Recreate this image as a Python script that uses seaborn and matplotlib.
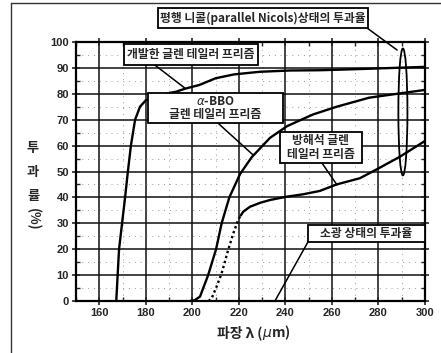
import matplotlib
matplotlib.use("Agg")
import matplotlib.pyplot as plt
from matplotlib.patches import Ellipse, Rectangle
from matplotlib.lines import Line2D
from matplotlib.ticker import MultipleLocator
import numpy as np
import pandas as pd
import seaborn as sns

# Transmittance curves (wavelength, %)
dev_wl = [167.3, 168.5, 171.1, 172.3, 173.6, 175.4, 177.5, 180.0, 185.0, 190.0, 193.0,
          197.0, 203.0, 210.0, 218.0, 229.0, 242.0, 255.0, 270.0, 280.0, 290.0, 300.0]
dev_tr = [0.0, 20.0, 40.0, 50.0, 60.0, 70.0, 75.0, 77.5, 79.0, 80.3, 80.8,
          82.0, 83.4, 86.0, 87.5, 88.5, 89.0, 89.1, 89.5, 89.8, 90.1, 90.4]

bbo_wl = [199.0, 201.0, 203.3, 206.8, 210.2, 212.6, 215.9, 220.5, 225.5, 233.4,
          240.7, 251.8, 262.0, 276.0, 292.0, 300.0]
bbo_tr = [0.0, 0.3, 1.7, 10.0, 20.0, 30.0, 40.0, 49.0, 55.5, 63.0,
          67.5, 72.0, 75.0, 78.5, 80.5, 81.5]

cal_dot_wl = [207.0, 208.3, 210.4, 212.6, 215.4, 217.6, 219.7, 220.8]
cal_dot_tr = [0.0, 1.0, 5.5, 10.7, 19.7, 26.1, 31.3, 33.0]

cal_wl = [220.8, 221.9, 224.8, 229.1, 233.4, 240.7, 247.6, 254.8, 262.0, 272.0,
          279.2, 289.2, 300.0]
cal_tr = [33.0, 34.5, 36.4, 37.9, 39.0, 40.3, 41.2, 42.5, 45.0, 47.4,
          50.8, 55.7, 61.8]

x_ticks = [160, 180, 200, 220, 240, 260, 280, 300]
y_ticks = [0, 10, 20, 30, 40, 50, 60, 70, 80, 90, 100]

# Callout boxes: (text, x0, x1, y0, y1) and their leader lines
labels = [
    ("평행 니콜(parallel Nicols)상태의 투과율", 185.2, 275.4, 105.4, 113.1),
    ("개발한 글렌 테일러 프리즘", 170.5, 228.1, 91.1, 99.2),
    ("$\\alpha$-BBO\n글렌 테일러 프리즘", 180.8, 238.8, 68.7, 80.3),
    ("방해석 글렌\n테일러 프리즘", 237.7, 272.9, 53.3, 65.3),
    ("소광 상태의 투과율", 249.7, 300.0, 22.8, 29.3),
]
leaders = [
    ((275.1, 105.4), (288.0, 96.9)),
    ((183.9, 91.1), (196.8, 82.2)),
    ((211.0, 68.7), (226.1, 56.4)),
    ((255.7, 53.3), (262.2, 44.8)),
    ((249.7, 22.8), (235.5, 0.0)),
]

sns.set_theme(style="ticks")
plt.rcParams["font.family"] = ["Noto Sans CJK KR", "DejaVu Sans"]

fig = plt.figure(figsize=(4.41, 3.53), dpi=100)
ax = fig.add_axes([76 / 441, 1 - 301 / 353, (425 - 76) / 441, (301 - 42) / 353])

curves = pd.concat([
    pd.DataFrame({"wl": dev_wl, "tr": dev_tr, "name": "dev"}),
    pd.DataFrame({"wl": bbo_wl, "tr": bbo_tr, "name": "bbo"}),
    pd.DataFrame({"wl": cal_wl, "tr": cal_tr, "name": "cal"}),
])
sns.lineplot(data=curves, x="wl", y="tr", units="name", estimator=None,
             color="black", lw=1.7, sort=False, ax=ax, zorder=3)
sns.lineplot(x=cal_dot_wl, y=cal_dot_tr, color="black", lw=1.7,
             linestyle=(0, (1, 1.2)), ax=ax, zorder=3)

ax.set_xlim(150, 300)
ax.set_ylim(0, 100)
ax.set_xticks(x_ticks)
ax.set_yticks(y_ticks)
ax.xaxis.set_minor_locator(MultipleLocator(10))
ax.yaxis.set_minor_locator(MultipleLocator(5))
ax.grid(True, which="major", color="#111111", lw=1.1, zorder=1)
ax.grid(True, which="minor", color="#999999", lw=0.7, linestyle=(0, (1, 5)), zorder=1)
ax.tick_params(which="major", direction="inout", length=6, width=1.2,
               top=True, right=True, labelsize=8, pad=2)
ax.tick_params(which="minor", direction="in", length=3, width=1.0, top=True, right=True)
for lab in ax.get_xticklabels() + ax.get_yticklabels():
    lab.set_fontfamily("Liberation Sans")
    lab.set_fontweight("bold")
for sp in ax.spines.values():
    sp.set_linewidth(1.6)
    sp.set_color("black")
ax.set_xlabel("")
ax.set_ylabel("")

# Parallel-Nicols region marker
ax.add_patch(Ellipse((290.5, 73.0), 3.9, 49.0, fill=False, ec="black", lw=1.3,
                     zorder=5, clip_on=False))

for (x0, y0), (x1, y1) in leaders:
    ax.plot([x0, x1], [y0, y1], color="black", lw=1.1, zorder=5, clip_on=False)

for text, x0, x1, y0, y1 in labels:
    ax.add_patch(Rectangle((x0, y0), x1 - x0, y1 - y0, fc="white", ec="black",
                           lw=1.3, zorder=6, clip_on=False))
    ax.text((x0 + x1) / 2, (y0 + y1) / 2, text, ha="center", va="center",
            fontsize=8.5, fontweight="bold", linespacing=1.05, zorder=7,
            clip_on=False)

# Axis titles
fig.text(262 / 441, 1 - 333 / 353, "파장 λ (", ha="right", va="center",
         fontsize=10, fontweight="bold")
fig.text(262 / 441, 1 - 333 / 353, r"$\mu$m)", ha="left", va="center",
         fontsize=10, fontweight="bold")
for ch, py in [("투", 148), ("과", 172), ("률", 196)]:
    fig.text(33 / 441, 1 - py / 353, ch, ha="center", va="center",
             fontsize=9.5, fontweight="bold")
fig.text(33 / 441, 1 - 219 / 353, "(%)", ha="center", va="center", rotation=-90,
         fontsize=9.5, fontweight="bold")

# Outer frame
fig.add_artist(Line2D([11 / 441, 11 / 441], [0, 1 - 3 / 353], color="#333333", lw=1.0,
                      transform=fig.transFigure))
fig.add_artist(Line2D([11 / 441, 1], [1 - 3 / 353, 1 - 3 / 353], color="#333333", lw=1.0,
                      transform=fig.transFigure))

fig.savefig("out.png", dpi=100, facecolor="white")
